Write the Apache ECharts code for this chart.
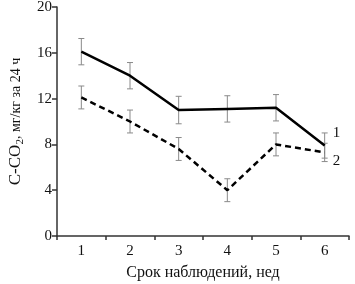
<!DOCTYPE html>
<html>
<head>
<meta charset="utf-8">
<script src="https://cdn.jsdelivr.net/npm/echarts@6/dist/echarts.min.js"></script>
<style>
  html, body { margin: 0; padding: 0; background: #fff; }
  #chart { width: 355px; height: 284px; }
</style>
</head>
<body>
<div id="chart"></div>
<script>
// weeks of observation
const weeks = ["1", "2", "3", "4", "5", "6"];

// series 1 (solid) and 2 (dashed), C-CO2 mg/kg per 24 h
const series1 = [16.1, 14.0, 11.0, 11.1, 11.2, 7.9];
const series2 = [12.1, 10.0, 7.6, 4.0, 8.0, 7.3];

// half-widths of error bars
const err1 = [1.15, 1.15, 1.2, 1.15, 1.15, 1.1];
const err2 = [1.0, 1.0, 1.0, 1.0, 1.0, 0.8];

const yTicks = { min: 0, max: 20, interval: 4 };

const chart = echarts.init(document.getElementById("chart"));
const font = "'Liberation Serif', 'DejaVu Serif', serif";

function errData(vals, errs) {
  return vals.map((v, i) => [i, v - errs[i], v + errs[i]]);
}

function renderErr(params, api) {
  const x = api.value(0);
  const lo = api.coord([x, api.value(1)]);
  const hi = api.coord([x, api.value(2)]);
  const w = 3;
  const st = { stroke: "#8a8a8a", lineWidth: 1 };
  return {
    type: "group",
    children: [
      { type: "line", shape: { x1: lo[0], y1: lo[1], x2: hi[0], y2: hi[1] }, style: st },
      { type: "line", shape: { x1: lo[0] - w, y1: lo[1], x2: lo[0] + w, y2: lo[1] }, style: st },
      { type: "line", shape: { x1: hi[0] - w, y1: hi[1], x2: hi[0] + w, y2: hi[1] }, style: st },
    ],
  };
}

const option = {
  animation: false,
  grid: { left: 57, right: 6, top: 7, bottom: 48, outerBoundsMode: "none" },
  xAxis: {
    type: "category",
    data: weeks,
    boundaryGap: true,
    name: "Срок наблюдений, нед",
    nameLocation: "middle",
    nameGap: 29,
    nameTextStyle: { fontFamily: font, fontSize: 16, color: "#111" },
    axisLine: { lineStyle: { color: "#333", width: 1.5 } },
    axisTick: { show: true, interval: 0, length: 4, lineStyle: { color: "#333", width: 1.5 } },
    axisLabel: { fontFamily: font, fontSize: 15, color: "#111", margin: 8 },
  },
  yAxis: {
    type: "value",
    min: yTicks.min,
    max: yTicks.max,
    interval: yTicks.interval,
    name: "{a|C-CO}{s|2}{b|, мг/кг за 24 ч}",
    nameLocation: "middle",
    nameGap: 31,
    nameTextStyle: {
      rich: {
        a: { fontFamily: font, fontSize: 17, color: "#111" },
        s: { fontFamily: font, fontSize: 11, color: "#111", verticalAlign: "bottom", padding: [9, 0, 0, 0] },
        b: { fontFamily: font, fontSize: 14, color: "#111" },
      },
    },
    splitLine: { show: false },
    axisLine: { show: true, lineStyle: { color: "#333", width: 1.5 } },
    axisTick: { show: true, length: 5, lineStyle: { color: "#333", width: 1.5 } },
    axisLabel: { fontFamily: font, fontSize: 15, color: "#111", margin: 5 },
  },
  series: [
    {
      type: "custom",
      renderItem: renderErr,
      data: errData(series1, err1),
      z: 1,
    },
    {
      type: "custom",
      renderItem: renderErr,
      data: errData(series2, err2),
      z: 1,
    },
    {
      name: "1",
      type: "line",
      data: series1,
      showSymbol: false,
      lineStyle: { color: "#000", width: 2.5 },
      z: 3,
      endLabel: {
        show: true,
        formatter: "1",
        fontFamily: font,
        fontSize: 15,
        color: "#111",
        offset: [0, -12],
      },
    },
    {
      name: "2",
      type: "line",
      data: series2,
      showSymbol: false,
      lineStyle: { color: "#000", width: 2.5, type: [6, 4] },
      z: 3,
      endLabel: {
        show: true,
        formatter: "2",
        fontFamily: font,
        fontSize: 15,
        color: "#111",
        offset: [0, 9],
      },
    },
  ],
};

chart.setOption(option);
</script>
</body>
</html>
